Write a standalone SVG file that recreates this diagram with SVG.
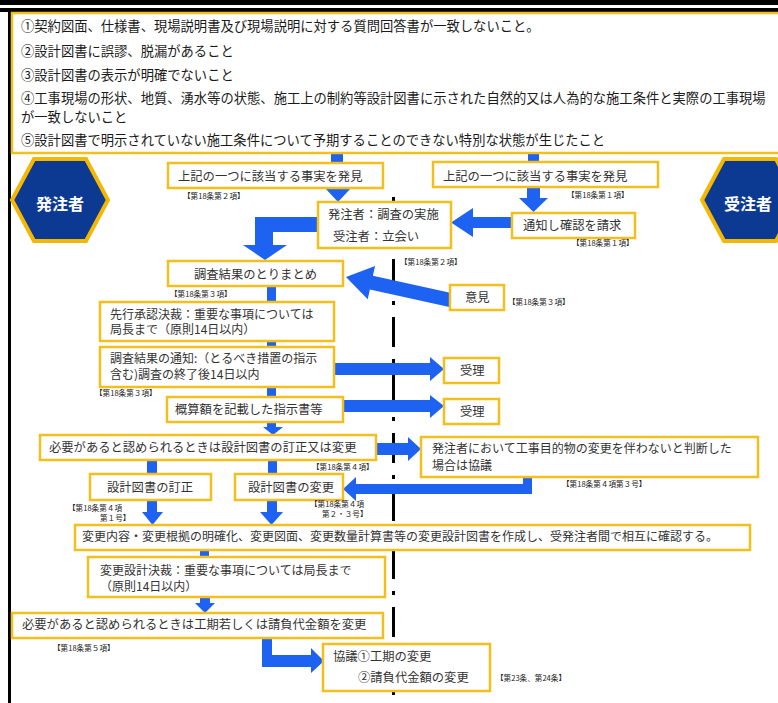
<svg xmlns="http://www.w3.org/2000/svg" width="778" height="703" viewBox="0 0 778 703">
<style>
.box{fill:#fff;stroke:#f3bf1f;stroke-width:2.5}
.t{font-family:"Noto Sans CJK JP","Noto Sans",sans-serif;font-size:12.3px;fill:#333}
.t2{font-family:"Noto Sans CJK JP","Noto Sans",sans-serif;font-size:12px;fill:#333}
.top{font-family:"Noto Sans CJK JP","Noto Sans",sans-serif;font-size:13.3px;fill:#1a1a1a}
.lab{font-family:"Noto Sans CJK JP","Noto Sans",sans-serif;font-size:7.6px;fill:#222}
.hex{fill:#0c3a93;stroke:#f5b800;stroke-width:4}
.ht{font-family:"Noto Sans CJK JP","Noto Sans",sans-serif;font-size:16px;font-weight:bold;fill:#fff}
.ar{fill:#1e62f2}
.cl{stroke:#000;stroke-width:3;fill:none}
</style>
<rect width="778" height="703" fill="#fff"/>
<rect x="0" y="0" width="778" height="5" fill="#000"/>
<rect x="0" y="8" width="778" height="4" fill="#000"/>
<rect x="8" y="8" width="3" height="695" fill="#000"/>

<g id="centerline">
<line class="cl" x1="393.5" y1="197" x2="393.5" y2="201"/>
<line class="cl" x1="393.5" y1="259" x2="393.5" y2="703" stroke-dasharray="30 12 4 12"/>
</g>

<g id="connectors">
<rect class="ar" x="331" y="153" width="12" height="10"/>
<rect class="ar" x="528" y="153" width="11" height="10"/>
<polygon class="ar" points="325,188 351,188 338,202"/>
<rect class="ar" x="527" y="187" width="13" height="11"/>
<polygon class="ar" points="519,198 548,198 533.5,212"/>
<polygon class="ar" points="512,217 473,217 473,208 451,222.5 473,237 473,228 512,228"/>
<polygon class="ar" points="318,217 255,217 255,245 243,245 265,260 287,245 273,245 273,232 318,232"/>
<polygon class="ar" points="0,0 26,-17 26,-7 112,-7 112,7 26,7 26,17" transform="translate(346,277) rotate(12.4)"/>
<rect class="ar" x="267" y="286" width="9" height="16"/>
<rect class="ar" x="267" y="341" width="9" height="6"/>
<rect class="ar" x="267" y="387" width="9" height="10"/>
<rect class="ar" x="267" y="422" width="9" height="6"/>
<polygon class="ar" points="263,427 283,427 273,435"/>
<polygon class="ar" points="334,363 430,363 430,357 444,369 430,381 430,375 334,375"/>
<polygon class="ar" points="343,400 430,400 430,395 444,406 430,418 430,412 343,412"/>
<polygon class="ar" points="376,443 408,443 408,437 421,449 408,461 408,455 376,455"/>
<polygon class="ar" points="532,477 532,494 356,494 356,501 343,489 356,477 356,484 523,484 523,477"/>
<rect class="ar" x="147" y="460" width="10" height="14"/>
<rect class="ar" x="268" y="460" width="9" height="14"/>
<rect class="ar" x="147" y="500" width="10" height="12"/>
<polygon class="ar" points="142,512 163,512 152.5,525"/>
<rect class="ar" x="267" y="500" width="10" height="12"/>
<polygon class="ar" points="260,512 283,512 271.5,525"/>
<rect class="ar" x="200" y="550" width="9" height="7"/>
<rect class="ar" x="200" y="597" width="10" height="6"/>
<polygon class="ar" points="195,603 215,603 205,613"/>
<polygon class="ar" points="262,638 272,638 272,655 311,655 311,648 324,661 311,673 311,667 262,667"/>
</g>

<g id="conditions">
<rect class="box" x="12" y="13" width="790" height="140"/>
<text class="top" x="21" y="31">①契約図面、仕様書、現場説明書及び現場説明に対する質問回答書が一致しないこと。</text>
<text class="top" x="21" y="56">②設計図書に誤謬、脱漏があること</text>
<text class="top" x="21" y="80">③設計図書の表示が明確でないこと</text>
<text class="top" x="21" y="102.5">④工事現場の形状、地質、湧水等の状態、施工上の制約等設計図書に示された自然的又は人為的な施工条件と実際の工事現場</text>
<text class="top" x="21" y="121.5">が一致しないこと</text>
<text class="top" x="21" y="145">⑤設計図書で明示されていない施工条件について予期することのできない特別な状態が生じたこと</text>
</g>

<g id="hachu">
<polygon class="hex" points="12,200 34,159 86,159 108,200 86,241 34,241"/>
<text class="ht" x="60" y="210" text-anchor="middle">発注者</text>
</g>
<g id="juchu">
<polygon class="hex" points="702,200 724,159 776,159 798,200 776,241 724,241"/>
<text class="ht" x="748" y="210" text-anchor="middle">受注者</text>
</g>

<g id="n-discover-left">
<rect class="box" x="168" y="163" width="215" height="25"/>
<text class="t" x="178" y="181">上記の一つに該当する事実を発見</text>
<text class="lab" x="183" y="199">【第18条第２項】</text>
</g>
<g id="n-discover-right">
<rect class="box" x="433" y="162" width="225" height="25"/>
<text class="t" x="443" y="181">上記の一つに該当する事実を発見</text>
<text class="lab" x="567" y="198">【第18条第１項】</text>
</g>
<g id="n-survey">
<rect class="box" x="318" y="202" width="133" height="46"/>
<text class="t" x="328" y="219">発注者：調査の実施</text>
<text class="t" x="333" y="241">受注者：立会い</text>
<text class="lab" x="400" y="265">【第18条第２項】</text>
</g>
<g id="n-request">
<rect class="box" x="512" y="213" width="123" height="25"/>
<text class="t" x="523" y="230">通知し確認を請求</text>
<text class="lab" x="572" y="246">【第18条第１項】</text>
</g>
<g id="n-summary">
<rect class="box" x="168" y="261" width="175" height="25"/>
<text class="t" x="194" y="279">調査結果のとりまとめ</text>
<text class="lab" x="170" y="297">【第18条第３項】</text>
</g>
<g id="n-opinion">
<rect class="box" x="450" y="285" width="54" height="25"/>
<text class="t" x="465" y="302">意見</text>
<text class="lab" x="508" y="305">【第18条第３項】</text>
</g>
<g id="n-prior">
<rect class="box" x="100" y="302" width="234" height="39"/>
<text class="t2" x="110" y="318.5">先行承認決裁：重要な事項については</text>
<text class="t2" x="110" y="334">局長まで（原則14日以内）</text>
</g>
<g id="n-notice">
<rect class="box" x="100" y="347" width="234" height="40"/>
<text class="t2" x="110" y="363">調査結果の通知:（とるべき措置の指示</text>
<text class="t2" x="110" y="379">含む)調査の終了後14日以内</text>
<text class="lab" x="95" y="396">【第18条第３項】</text>
</g>
<g id="n-estimate">
<rect class="box" x="167" y="397" width="176" height="25"/>
<text class="t" x="175" y="414">概算額を記載した指示書等</text>
</g>
<g id="n-accept1">
<rect class="box" x="444" y="358" width="55" height="25"/>
<text class="t" x="460" y="375">受理</text>
</g>
<g id="n-accept2">
<rect class="box" x="444" y="399" width="55" height="25"/>
<text class="t" x="460" y="416">受理</text>
</g>
<g id="n-revise">
<rect class="box" x="40" y="435" width="336" height="25"/>
<text class="t" x="49" y="452">必要があると認められるときは設計図書の訂正又は変更</text>
<text class="lab" x="312" y="470">【第18条第４項】</text>
</g>
<g id="n-consult">
<rect class="box" x="421" y="437" width="337" height="40"/>
<text class="t2" x="432" y="453">発注者において工事目的物の変更を伴わないと判断した</text>
<text class="t2" x="432" y="469.5">場合は協議</text>
<text class="lab" x="562" y="487">【第18条第４項第３号】</text>
</g>
<g id="n-correct">
<rect class="box" x="90" y="474" width="121" height="26"/>
<text class="t" x="107" y="492">設計図書の訂正</text>
<text class="lab" x="68" y="511">【第18条第４項</text>
<text class="lab" x="100" y="521">第１号】</text>
</g>
<g id="n-change">
<rect class="box" x="235" y="474" width="108" height="26"/>
<text class="t" x="248" y="492">設計図書の変更</text>
<text class="lab" x="310" y="507">【第18条第４項</text>
<text class="lab" x="322" y="517">第２・３号】</text>
</g>
<g id="n-changedoc">
<rect class="box" x="75" y="525" width="675" height="25"/>
<text class="t" x="82" y="541" style="font-size:12px">変更内容・変更根拠の明確化、変更図面、変更数量計算書等の変更設計図書を作成し、受発注者間で相互に確認する。</text>
</g>
<g id="n-approval">
<rect class="box" x="88" y="557" width="297" height="40"/>
<text class="t2" x="100" y="574.5">変更設計決裁：重要な事項については局長まで</text>
<text class="t2" x="100" y="591">（原則14日以内）</text>
</g>
<g id="n-period">
<rect class="box" x="12" y="613" width="371" height="25"/>
<text class="t" x="22" y="629">必要があると認められるときは工期若しくは請負代金額を変更</text>
<text class="lab" x="53" y="651">【第18条第５項】</text>
</g>
<g id="n-negotiate">
<rect class="box" x="323" y="644" width="167" height="47"/>
<text class="t" x="333" y="661">協議①工期の変更</text>
<text class="t" x="358" y="682">②請負代金額の変更</text>
<text class="lab" x="496" y="681">【第23条、第24条】</text>
</g>
</svg>
